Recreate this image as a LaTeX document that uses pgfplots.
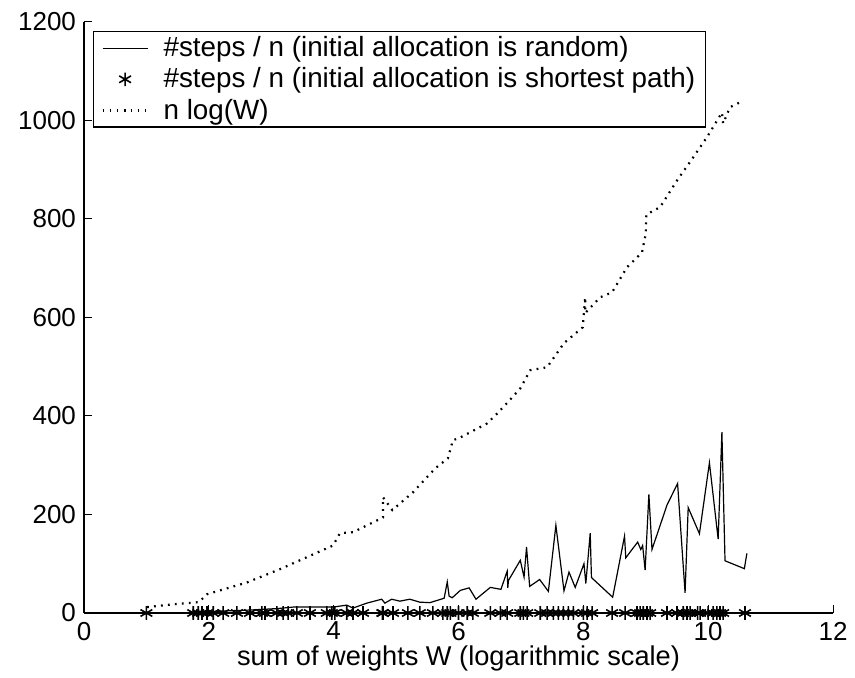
\documentclass[border=0pt]{standalone}
\usepackage{fontspec}
\setmainfont{Liberation Sans}
\usepackage{pgfplots}
\pgfplotsset{compat=1.18}

\begin{document}
\begin{tikzpicture}
\begin{axis}[
  scale only axis,
  width=374.5pt,
  height=295.5pt,
  xmin=0, xmax=12,
  ymin=0, ymax=1200,
  axis x line=bottom,
  axis y line=left,
  axis line style={-, line width=0.6pt},
  tick align=inside,
  major tick length=3.8pt,
  tick style={black, line width=0.5pt},
  xtick={0,2,...,12},
  ytick={0,200,...,1200},
  minor tick num=0,
  clip=false,
  /pgf/number format/assume math mode=true,
  /pgf/number format/1000 sep={},
  tick label style={font=\fontsize{13}{15}\selectfont},
  label style={font=\fontsize{13.6}{16}\selectfont},
  xticklabel style={yshift=-1pt},
  yticklabel style={xshift=-0.5pt},
  xlabel={sum of weights W (logarithmic scale)},
  xlabel style={yshift=4pt},
  legend cell align=left,
  legend style={
    at={(0,1)}, anchor=north west, xshift=4.5pt, yshift=-4.5pt,
    draw=black, line width=0.6pt,
    font=\fontsize{13.9}{16}\selectfont,
    inner xsep=3pt, inner ysep=0.5pt,
    row sep=0pt,
    nodes={inner sep=2pt},
  },
  legend image code/.code={
    \path[draw=none, fill=none] (-1.5pt,-0.1pt) rectangle (28.5pt,0.1pt);
    \draw[mark repeat=2,mark phase=2,#1]
      plot coordinates {(0pt,0pt) (11.25pt,0pt) (22.5pt,0pt)};
  },
]
% #steps / n, random initial allocation
\addplot[black, line width=0.6pt] coordinates {
(1.75,1) (2.2,4) (2.66,6) (3.1,9) (3.35,12) (3.99,12) (4.21,16) (4.31,10)
(4.53,20) (4.77,28) (4.82,20) (4.93,28) (5.06,24) (5.22,28) (5.38,22)
(5.54,21) (5.67,26) (5.77,30) (5.82,63) (5.85,34) (5.90,31) (6.03,46)
(6.17,51) (6.28,28) (6.51,52) (6.68,48) (6.78,85) (6.79,51) (6.80,66)
(6.99,107) (7.05,73) (7.09,134) (7.14,54) (7.30,68) (7.44,44) (7.56,178)
(7.69,45) (7.77,83) (7.87,52) (8.01,100) (8.04,60) (8.11,162) (8.13,72)
(8.47,32) (8.66,156) (8.68,112) (8.87,144) (8.92,129) (8.95,137) (8.99,87)
(9.05,241) (9.10,129) (9.34,219) (9.51,263) (9.63,41) (9.68,214) (9.86,161)
(10.02,305) (10.16,150) (10.22,367) (10.27,106) (10.58,90) (10.62,121)
};
\addlegendentry{\#steps / n (initial allocation is random)}

% #steps / n, shortest path initial allocation
\addplot[only marks, mark=asterisk, mark size=3.4pt, black, line width=0.8pt] coordinates {
(1.00,0) (1.75,0) (1.83,0) (1.89,0) (1.97,0) (2.07,0) (2.23,0) (2.45,0)
(2.66,0) (2.85,0) (2.90,0) (3.09,0) (3.19,0) (3.27,0) (3.41,0) (3.62,0)
(3.89,0) (3.97,0) (4.02,0) (4.21,0) (4.31,0) (4.47,0) (4.78,0) (4.79,0)
(4.95,0) (5.19,0) (5.38,0) (5.59,0) (5.75,0) (5.82,0) (5.87,0) (6.00,0)
(6.14,0) (6.23,0) (6.51,0) (6.67,0) (6.78,0) (6.99,0) (7.04,0) (7.10,0)
(7.31,0) (7.42,0) (7.52,0) (7.60,0) (7.68,0) (7.76,0) (7.84,0) (8.00,0)
(8.06,0) (8.14,0) (8.46,0) (8.67,0) (8.86,0) (8.91,0) (8.96,0) (9.02,0)
(9.07,0) (9.34,0) (9.50,0) (9.60,0) (9.66,0) (9.71,0) (9.83,0) (9.87,0)
(10.00,0) (10.08,0) (10.14,0) (10.19,0) (10.24,0) (10.59,0)
};
\addlegendentry{\#steps / n (initial allocation is shortest path)}

% n log(W)
\addplot[black, line width=1.1pt, dash pattern=on 0.9pt off 2.6pt] coordinates {
(1.01,12) (1.46,18) (1.84,22) (1.97,38) (2.61,62) (3.14,89) (3.99,137)
(4.10,162) (4.31,164) (4.79,194) (4.79,235) (4.94,209) (5.27,245)
(5.63,294) (5.83,314) (5.91,351) (5.99,354) (6.19,367) (6.46,385)
(6.62,405) (6.79,428) (6.99,456) (7.15,493) (7.42,499) (7.69,548)
(7.99,580) (8.03,641) (8.03,609) (8.27,641) (8.46,651) (8.70,702)
(8.94,732) (9.00,770) (9.01,809) (9.23,824) (9.50,878) (9.76,925)
(9.98,966) (10.22,1016) (10.24,994) (10.35,1027) (10.56,1040)
};
\addlegendentry{n log(W)}
\end{axis}
\pgfresetboundingbox
\useasboundingbox ([xshift=-42pt,yshift=-32.5pt]current axis.south west)
  rectangle ([xshift=11pt,yshift=11pt]current axis.north east);
\end{tikzpicture}
\end{document}
